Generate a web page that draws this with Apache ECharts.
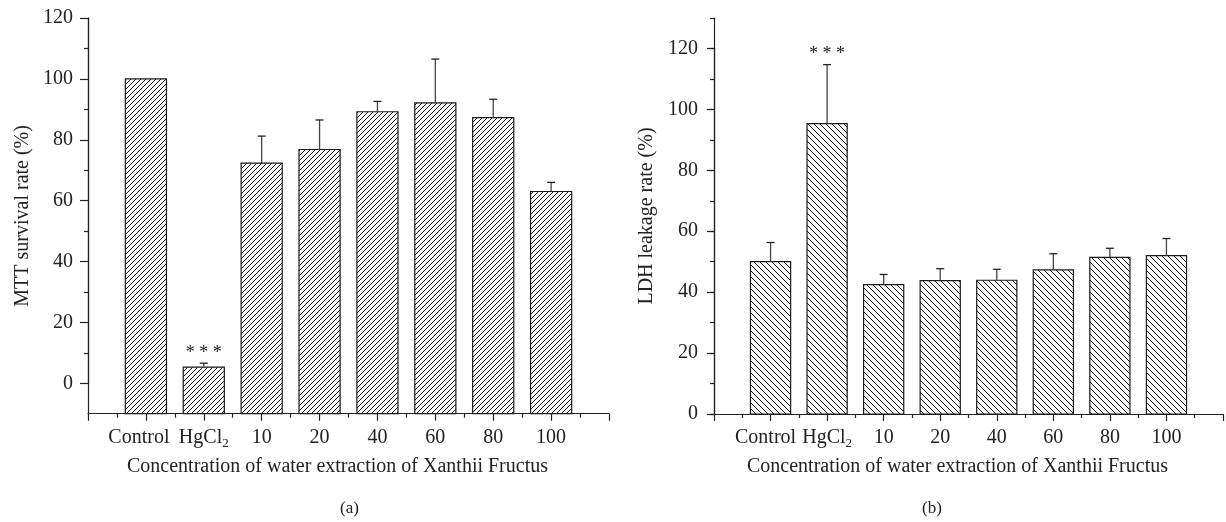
<!DOCTYPE html>
<html>
<head>
<meta charset="utf-8">
<script src="https://cdn.jsdelivr.net/npm/echarts@6/dist/echarts.min.js"></script>
<style>
  html, body { margin: 0; padding: 0; background: #fff; }
  #chart { width: 1226px; height: 522px; }
</style>
</head>
<body>
<div id="chart"></div>
<script>
(function() {
  // groups along the x axis (positions 1..8, slots 0 and 9 are empty)
  var categories = ["Control", "HgCl2", "10", "20", "40", "60", "80", "100"];

  // (a) MTT survival rate (%)
  var mttValues = [100, 5.3, 72.3, 76.8, 89.2, 92.1, 87.3, 63.0];
  var mttErrors = [0, 1.3, 8.9, 9.7, 3.4, 14.4, 6.0, 3.0];
  var mttStars = ["", "* * *", "", "", "", "", "", ""];

  // (b) LDH leakage rate (%)
  var ldhValues = [50.0, 95.3, 42.5, 43.8, 43.9, 47.3, 51.4, 52.0];
  var ldhErrors = [6.3, 19.4, 3.3, 3.9, 3.6, 5.3, 3.0, 5.6];
  var ldhStars = ["", "* * *", "", "", "", "", "", ""];

  var xTitle = "Concentration of water extraction of Xanthii Fructus";
  var font = '"Liberation Serif", "DejaVu Serif", serif';
  var ink = "#222";
  var fs = 20;

  function hatch(dir, size) {
    var c = document.createElement("canvas");
    c.width = c.height = size;
    var g = c.getContext("2d");
    g.strokeStyle = "#111";
    g.lineWidth = 1;
    for (var o = -size; o <= size; o += size) {
      g.beginPath();
      if (dir > 0) {
        g.moveTo(o - 1, size + 1);
        g.lineTo(o + size + 1, -1);
      } else {
        g.moveTo(o - 1, -1);
        g.lineTo(o + size + 1, size + 1);
      }
      g.stroke();
    }
    return c;
  }

  var hatchA = hatch(1, 5);
  var hatchB = hatch(-1, 6);

  function rows(values, errors) {
    return values.map(function(v, i) { return [i + 1, v, errors[i]]; });
  }

  function barRender(stars, baseVal, pattern) {
    return function(params, api) {
      var x = api.value(0), v = api.value(1), e = api.value(2);
      var top = api.coord([x, v]);
      var bottom = api.coord([x, baseVal]);
      var w = api.size([1, 0])[0] * 0.71;
      var kids = [{
        type: "rect",
        shape: { x: top[0] - w / 2, y: top[1], width: w, height: bottom[1] - top[1] },
        style: { fill: { image: pattern, repeat: "repeat" }, stroke: "#1a1a1a", lineWidth: 1.2 }
      }];
      var hi = top;
      if (e > 0) {
        hi = api.coord([x, v + e]);
        kids.push({
          type: "line",
          shape: { x1: top[0], y1: top[1], x2: hi[0], y2: hi[1] },
          style: { stroke: "#444", lineWidth: 1.3 }
        });
        kids.push({
          type: "line",
          shape: { x1: hi[0] - 4, y1: hi[1], x2: hi[0] + 4, y2: hi[1] },
          style: { stroke: ink, lineWidth: 1.3 }
        });
      }
      var s = stars[params.dataIndex];
      if (s) {
        kids.push({
          type: "text",
          style: {
            text: s, x: hi[0], y: hi[1] - 10,
            align: "center", verticalAlign: "middle",
            fontSize: 18, fontFamily: font, fill: ink
          }
        });
      }
      return { type: "group", children: kids };
    };
  }

  function catLabel(v) {
    var c = categories[v - 1];
    if (!c) return "";
    if (c === "Control") return "{c|Control}";
    if (c === "HgCl2") return "{t|HgCl}{s|2}";
    return "{t|" + c + "}";
  }

  var axisLine = { show: true, onZero: false, lineStyle: { color: ink, width: 1.2 } };
  var tickStyle = { color: ink, width: 1.2 };

  function xAxisFor(gridIndex, visible, shift) {
    if (!visible) {
      return { gridIndex: gridIndex, type: "value", min: 0, max: 9, show: false };
    }
    return {
      gridIndex: gridIndex,
      type: "value",
      min: 0, max: 9, interval: 1,
      axisLine: axisLine,
      axisTick: { show: true, length: 7, lineStyle: tickStyle },
      minorTick: { show: true, splitNumber: 2, length: 4, lineStyle: tickStyle },
      splitLine: { show: false },
      axisLabel: {
        margin: 12,
        formatter: catLabel,
        rich: {
          t: { fontSize: fs, fontFamily: font, color: ink, lineHeight: 24 },
          c: { fontSize: fs, fontFamily: font, color: ink, lineHeight: 24, padding: [0, shift * 2, 0, 0] },
          s: { fontSize: 13, fontFamily: font, color: ink, lineHeight: 13, verticalAlign: "bottom" }
        }
      },
      name: xTitle,
      nameLocation: "middle",
      nameGap: 43,
      nameTextStyle: { fontSize: fs, fontFamily: font, color: ink, padding: [0, 22, 0, 0] }
    };
  }

  function caption(text, left) {
    return {
      text: text, left: left, top: 500, padding: 0,
      textStyle: { fontSize: 17, fontFamily: font, fontWeight: "normal", color: ink }
    };
  }

  var kA = 3.044, kB = 3.046;

  var option = {
    animation: false,
    backgroundColor: "#fff",
    title: [caption("(a)", 340), caption("(b)", 922)],
    grid: [
      { left: 88, top: 18, width: 521, height: 130 * kA },
      { left: 88, top: 18, width: 521, height: 120 * kA },
      { left: 714, top: 18, width: 520, height: 130 * kB },
      { left: 714, top: 18 + 10 * kB, width: 520, height: 120 * kB }
    ],
    xAxis: [xAxisFor(0, true, 7), xAxisFor(1, false), xAxisFor(2, true, 5), xAxisFor(3, false)],
    yAxis: [
      {
        gridIndex: 0, type: "value", min: -10, max: 120, interval: 10,
        axisLine: axisLine,
        axisTick: { show: false },
        axisLabel: { show: false },
        splitLine: { show: false },
        name: "MTT survival rate (%)",
        nameLocation: "middle",
        nameGap: 55,
        nameTextStyle: { fontSize: fs, fontFamily: font, color: ink }
      },
      {
        gridIndex: 1, type: "value", min: 0, max: 120, interval: 20,
        axisLine: axisLine,
        axisTick: { show: true, length: 8, lineStyle: tickStyle },
        minorTick: { show: true, splitNumber: 2, length: 4, lineStyle: tickStyle },
        splitLine: { show: false },
        axisLabel: { margin: 15, fontSize: fs, fontFamily: font, color: ink }
      },
      {
        gridIndex: 2, type: "value", min: 0, max: 130, interval: 10,
        axisLine: axisLine,
        axisTick: { show: true, length: 4, lineStyle: tickStyle },
        axisLabel: { show: false },
        splitLine: { show: false },
        name: "LDH leakage rate (%)",
        nameLocation: "middle",
        nameGap: 57,
        nameTextStyle: { fontSize: fs, fontFamily: font, color: ink }
      },
      {
        gridIndex: 3, type: "value", min: 0, max: 120, interval: 20,
        axisLine: axisLine,
        axisTick: { show: true, length: 7, lineStyle: tickStyle },
        splitLine: { show: false },
        axisLabel: { margin: 16, fontSize: fs, fontFamily: font, color: ink }
      }
    ],
    series: [
      {
        type: "custom",
        xAxisIndex: 0, yAxisIndex: 0,
        data: rows(mttValues, mttErrors),
        renderItem: barRender(mttStars, -10, hatchA),
        clip: false
      },
      {
        type: "custom",
        xAxisIndex: 2, yAxisIndex: 2,
        data: rows(ldhValues, ldhErrors),
        renderItem: barRender(ldhStars, 0, hatchB),
        clip: false
      }
    ]
  };

  var myChart = echarts.init(document.getElementById("chart"));
  myChart.setOption(option);
  window.addEventListener("resize", function() {
    myChart.resize();
  });
})();
</script>
</body>
</html>
